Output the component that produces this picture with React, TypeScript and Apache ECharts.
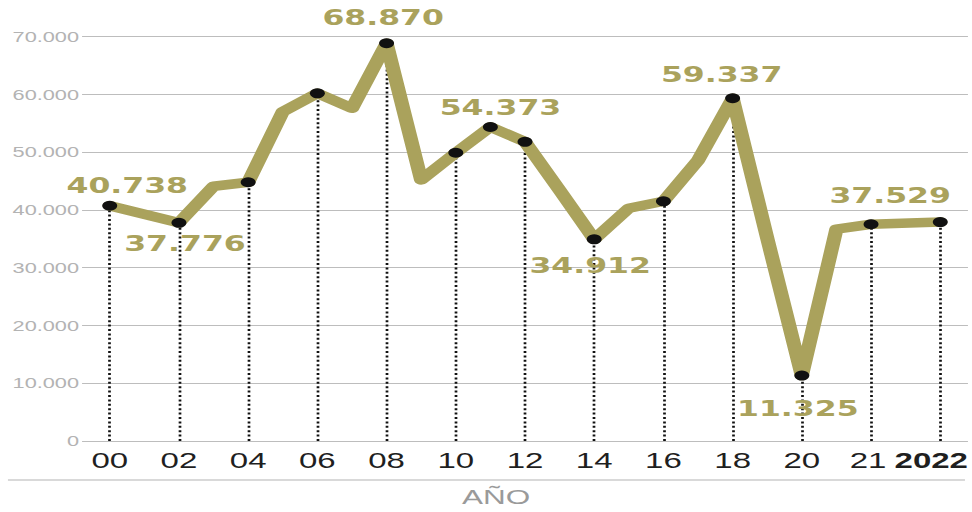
import React, { useEffect, useRef } from "react";
import * as echarts from "echarts";

// Slots along the x axis (one per year, plus two intermediate slots after 2020)
const xLabels = ["00", "", "02", "", "04", "", "06", "", "08", "", "10", "", "12", "", "14", "", "16", "", "18", "", "20", "", "21", "", "2022"];
const values: (number | null)[] = [
  40738, 39250, 37776, 44100, 44800, 57000, 60200, 57600, 68870, 45200,
  49900, 54373, 51800, 43400, 34912, 40300, 41500, 48600, 59337, 35100,
  11325, 36700, 37529, null, 37900,
];
const markerIdx = [0, 2, 4, 6, 8, 10, 11, 12, 14, 16, 18, 20, 22, 24];
const dropIdx = [0, 2, 4, 6, 8, 10, 12, 14, 16, 18, 20, 22, 24];
const labelIdx = [0, 2, 8, 11, 14, 18, 20, 22];
const tickIdx = [0, 2, 4, 6, 8, 10, 12, 14, 16, 18, 20, 22, 24];
const yMin = 0;
const yMax = 70000;
const yStep = 10000;
const axisTitle = "AÑO";

const OLIVE = "#aaa25c";
const SX = 1.5; // horizontal stretch of the reference
const W = 972 / SX;
const H = 512;

const labelOffsets: Record<number, [number, number]> = {
  0: [11.7, -20],
  2: [4, 21],
  8: [-2.3, -26],
  11: [6.7, -19],
  14: [-2.7, 26],
  18: [-7.3, -24],
  20: [-2.7, 33],
  22: [12.7, -29],
};

const fmt = (v: number) =>
  v < 1000 ? String(v) : Math.floor(v / 1000) + "." + String(Math.round(v % 1000)).padStart(3, "0");

export default function App() {
  const ref = useRef<HTMLDivElement>(null);
  useEffect(() => {
    if (!ref.current) return;
    const chart = echarts.init(ref.current, undefined, { renderer: "svg" });
    const lineData = values
      .map((v, i) => (v === null ? null : [i, v]))
      .filter((d) => d !== null);
    const scatterData = markerIdx.map((i) => {
      const v = values[i] as number;
      if (labelIdx.includes(i)) {
        return {
          value: [i, v],
          label: {
            show: true,
            position: "inside",
            offset: labelOffsets[i],
            formatter: () => fmt(v),
            color: OLIVE,
            fontFamily: "DejaVu Sans",
            fontWeight: "bold",
            fontSize: 21,
          },
        };
      }
      return { value: [i, v] };
    });
    chart.setOption({
      animation: false,
      grid: {
        left: 54.7,
        right: W - 645.3,
        top: 36.7,
        bottom: 71,
        containLabel: false,
        outerBoundsMode: "none",
      },
      xAxis: {
        type: "value",
        min: -0.8,
        max: 24.8,
        splitLine: { show: false },
        axisLine: { show: false },
        axisTick: { show: false },
        axisLabel: {
          customValues: tickIdx,
          formatter: (v: number) => {
            const t = xLabels[Math.round(v)] || "";
            if (t === "2022") return "{b|" + t + "}";
            if (t === "21") return "{s|" + t + "}";
            return t;
          },
          margin: 9,
          fontSize: 22,
          color: "#1f1f1f",
          fontFamily: "Liberation Sans",
          hideOverlap: false,
          rich: {
            b: {
              fontSize: 22,
              fontWeight: "bold",
              color: "#1f1f1f",
              fontFamily: "Liberation Sans",
              padding: [0, 12, 0, 0],
            },
            s: {
              fontSize: 22,
              color: "#1f1f1f",
              fontFamily: "Liberation Sans",
              padding: [0, 4, 0, 0],
            },
          },
        },
      },
      yAxis: {
        type: "value",
        min: yMin,
        max: yMax,
        interval: yStep,
        axisLine: { show: false },
        axisTick: { show: false },
        splitLine: { lineStyle: { color: "#bdbdbd", width: 1.2 } },
        axisLabel: {
          formatter: (v: number) => fmt(v),
          margin: 2,
          fontSize: 14.5,
          color: "#b3b3b3",
          fontFamily: "Liberation Sans",
        },
      },
      series: [
        {
          type: "line",
          data: lineData,
          showSymbol: false,
          z: 2,
          lineStyle: { color: OLIVE, width: 9.5, join: "round", cap: "round" },
          markLine: {
            silent: true,
            symbol: ["none", "none"],
            label: { show: false },
            lineStyle: { type: [2, 2.4], color: "#111", width: 1.8 },
            emphasis: { disabled: true },
            data: dropIdx.map((i) => [
              { coord: [i, 0] },
              { coord: [i, values[i] as number] },
            ]),
            z: 1,
          },
        },
        {
          type: "scatter",
          data: scatterData,
          symbol: "circle",
          symbolSize: 10,
          z: 3,
          itemStyle: { color: "#111", opacity: 1 },
        },
      ],
      graphic: [
        {
          type: "line",
          shape: { x1: 5.3, y1: 480, x2: 643.3, y2: 480 },
          style: { stroke: "#cccccc", lineWidth: 1.5 },
        },
        {
          type: "text",
          x: 330.7,
          y: 497,
          style: {
            text: axisTitle,
            fill: "#9a9a9a",
            fontSize: 21,
            fontFamily: "Liberation Sans",
            textAlign: "center",
            textVerticalAlign: "middle",
          },
        },
      ],
    });
    return () => chart.dispose();
  }, []);
  return (
    <div
      ref={ref}
      style={{
        position: "absolute",
        left: 0,
        top: 0,
        width: W,
        height: H,
        transform: `scaleX(${SX})`,
        transformOrigin: "0 0",
      }}
    />
  );
}
